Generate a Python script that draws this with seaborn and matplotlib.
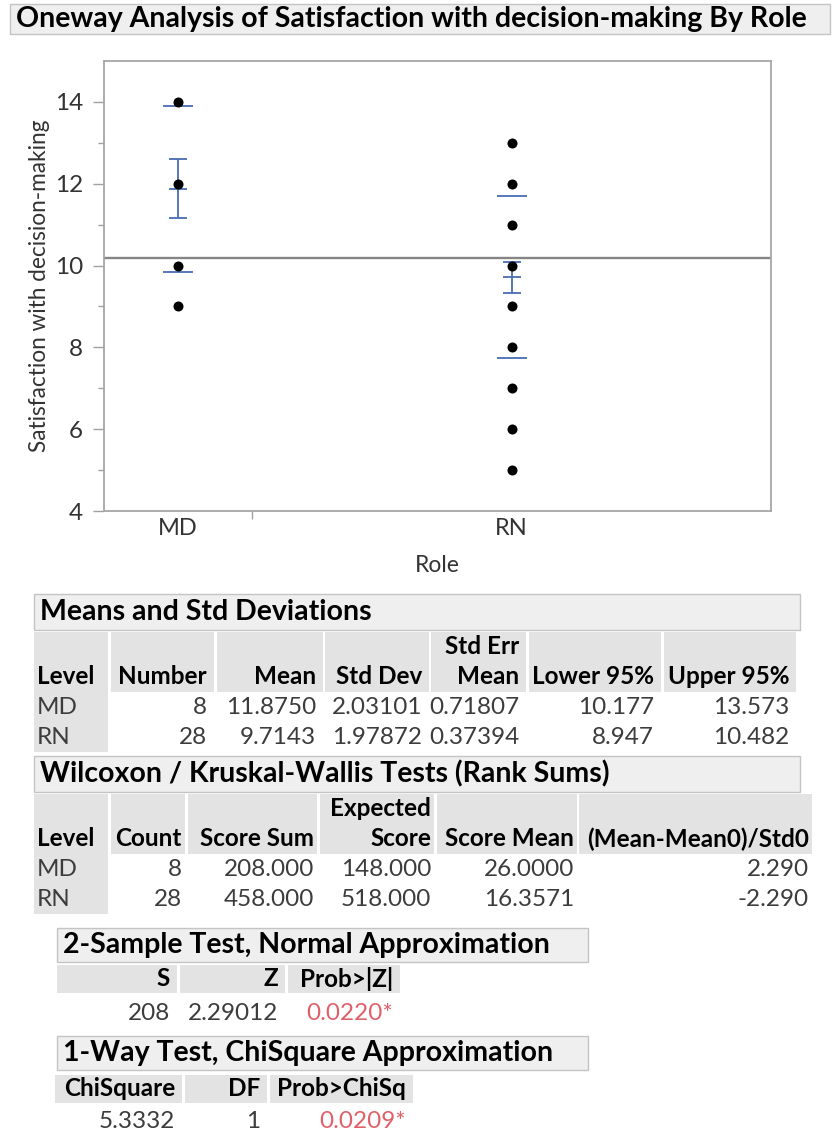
import numpy as np
import pandas as pd
import matplotlib
matplotlib.use("Agg")
import matplotlib.pyplot as plt
import seaborn as sns
from matplotlib.patches import Rectangle

# ---- data ----
roles = ["MD", "RN"]
counts = [8, 28]
md_levels = [14, 12, 10, 9]
rn_levels = [13, 12, 11, 10, 9, 8, 7, 6, 5]
means = [11.8750, 9.7143]
std_devs = [2.03101, 1.97872]
std_errs = [0.71807, 0.37394]
lower95 = [10.177, 8.947]
upper95 = [13.573, 10.482]

score_sum = [208.000, 458.000]
expected_score = [148.000, 518.000]
score_mean = [26.0000, 16.3571]
std0 = [2.290, -2.290]

two_sample = {"S": "208", "Z": "2.29012", "Prob>|Z|": "0.0220*"}
chisq = {"ChiSquare": "5.3332", "DF": "1", "Prob>ChiSq": "0.0209*"}

W, H = 834, 1133
BLUE = "#4a6cb3"
CELL = "#e3e3e3"
HEAD = "#efefef"
TXT = "#3c3c3c"
RED = "#e0606a"
TS = 17.5   # table text size
HS = 20.5   # section header size

sns.set_style("white")
plt.rcParams["font.family"] = ["Lato", "DejaVu Sans"]

fig = plt.figure(figsize=(W / 100, H / 100), dpi=100)


def rect(x0, y0, x1, y1, fc, ec="none"):
    fig.patches.append(Rectangle((x0 / W, 1 - y1 / H), (x1 - x0) / W, (y1 - y0) / H,
                                 transform=fig.transFigure, facecolor=fc,
                                 edgecolor=ec, lw=1, zorder=0))


def txt(x, y, s, ha="left", bold=False, size=TS, color=TXT):
    fig.text(x / W, 1 - y / H, s, ha=ha, va="center", fontsize=size,
             fontweight="bold" if bold else "normal", color=color)


def section(x0, x1, y0, y1, title):
    rect(x0, y0, x1, y1, HEAD, "#c4c4c4")
    txt(x0 + 6, (y0 + y1) / 2, title, bold=True, size=HS, color="black")


# ---- title ----
section(10, 830, 4, 34, "Oneway Analysis of Satisfaction with decision-making By Role")

# ---- oneway plot ----
ax = fig.add_axes([104 / W, 1 - 511 / H, 667 / W, 450 / H])
edges = np.cumsum([0] + counts)
centers = (edges[:-1] + edges[1:]) / 2
pos = dict(zip(roles, centers))

pts = pd.DataFrame({
    "Role": ["MD"] * len(md_levels) + ["RN"] * len(rn_levels),
    "value": md_levels + rn_levels,
})
pts["x"] = pts["Role"].map(pos)

grand_mean = np.average(means, weights=counts)
ax.axhline(grand_mean, color="#858585", lw=1.7, zorder=1)

sns.scatterplot(data=pts, x="x", y="value", color="black", s=52,
                linewidth=0, legend=False, ax=ax, zorder=3)

upx = edges[-1] / 667  # data units per pixel
for c, m, sd, se in zip(centers, means, std_devs, std_errs):
    ax.hlines([m - sd, m + sd], c - 15 * upx, c + 15 * upx, color=BLUE, lw=1.3, zorder=2)
    ax.hlines(m, c - 9 * upx, c + 9 * upx, color=BLUE, lw=1.3, zorder=2)
ax.errorbar(centers, means, yerr=std_errs, fmt="none", ecolor=BLUE,
            elinewidth=1.3, capsize=6.5, capthick=1.3, zorder=2)

ax.set_xlim(edges[0], edges[-1])
ax.set_ylim(4, 15)
ax.set_xticks(centers)
ax.set_xticklabels(roles)
ax.set_xticks([edges[1]], minor=True)
ax.set_yticks(range(4, 15, 2))
ax.set_yticks(range(5, 15, 2), minor=True)
ax.tick_params(axis="x", which="major", length=0, pad=5, labelsize=17, labelcolor="#333333")
ax.tick_params(axis="x", which="minor", length=6, width=1, color="#a0a0a0", direction="out", bottom=True)
ax.tick_params(axis="y", which="major", length=8, width=1, color="#a0a0a0", pad=7,
               labelsize=17.5, labelcolor="#333333", left=True)
ax.tick_params(axis="y", which="minor", length=4.5, width=1, color="#a0a0a0", left=True)
for sp in ax.spines.values():
    sp.set_color("#a6a6a6")
    sp.set_linewidth(1.3)

ax.set_xlabel("Role", fontsize=16.5, color="#333333")
ax.xaxis.set_label_coords(0.5, -(565 - 511) / 450)
ax.xaxis.label.set_va("center")
ax.set_ylabel("Satisfaction with decision-making", fontsize=16.3, color="#333333")
ax.yaxis.set_label_coords(-(104 - 40) / 667, 0.5)
ax.yaxis.label.set_va("center")

# ---- Means and Std Deviations ----
section(34, 800, 594, 630, "Means and Std Deviations")
cols = [(34, 108), (111, 214), (217, 323), (325, 429), (431, 526), (529, 661), (664, 796)]
top = ["", "", "", "", "Std Err", "", ""]
bottom = ["Level", "Number", "Mean", "Std Dev", "Mean", "Lower 95%", "Upper 95%"]
for (a, b), t1, t2 in zip(cols, top, bottom):
    rect(a, 632, b, 692, CELL)
    if t2 == "Level":
        txt(a + 3, 677, t2, bold=True, color="black")
    else:
        txt(b - 7, 647, t1, ha="right", bold=True, color="black")
        txt(b - 7, 677, t2, ha="right", bold=True, color="black")
rect(34, 692, 108, 752, CELL)
for i, (y, r) in enumerate(zip([707, 737], roles)):
    vals = [str(counts[i]), f"{means[i]:.4f}", f"{std_devs[i]:.5f}", f"{std_errs[i]:.5f}",
            f"{lower95[i]:.3f}", f"{upper95[i]:.3f}"]
    txt(37, y, r)
    for (a, b), v in zip(cols[1:], vals):
        txt(b - 7, y, v, ha="right")

# ---- Wilcoxon / Kruskal-Wallis ----
section(34, 800, 756, 792, "Wilcoxon / Kruskal-Wallis Tests (Rank Sums)")
cols = [(34, 108), (111, 185), (188, 317), (320, 434), (437, 577), (579, 812)]
top = ["", "", "", "Expected", "", ""]
bottom = ["Level", "Count", "Score Sum", "Score", "Score Mean", "(Mean-Mean0)/Std0"]
for (a, b), t1, t2 in zip(cols, top, bottom):
    rect(a, 794, b, 854, CELL)
    if t2 == "Level":
        txt(a + 3, 839, t2, bold=True, color="black")
    else:
        txt(b - 3, 809, t1, ha="right", bold=True, color="black")
        txt(b - 3, 839, t2, ha="right", bold=True, color="black")
rect(34, 854, 108, 914, CELL)
for i, (y, r) in enumerate(zip([869, 899], roles)):
    vals = [str(counts[i]), f"{score_sum[i]:.3f}", f"{expected_score[i]:.3f}",
            f"{score_mean[i]:.4f}", f"{std0[i]:.3f}"]
    txt(37, y, r)
    for (a, b), v in zip(cols[1:], vals):
        txt(b - 3, y, v, ha="right")

# ---- 2-Sample Test ----
section(57, 588, 928, 962, "2-Sample Test, Normal Approximation")
cols = [(57, 177), (180, 285), (288, 400)]
for (a, b), (k, v) in zip(cols, two_sample.items()):
    rect(a, 965, b, 993, CELL)
    txt(b - 7, 979, k, ha="right", bold=True, color="black")
    txt(b - 7, 1013, v, ha="right", color=RED if "*" in v else TXT)

# ---- 1-Way ChiSquare ----
section(57, 588, 1036, 1070, "1-Way Test, ChiSquare Approximation")
cols = [(55, 182), (185, 267), (270, 413)]
for (a, b), (k, v) in zip(cols, chisq.items()):
    rect(a, 1075, b, 1103, CELL)
    txt(b - 7, 1089, k, ha="right", bold=True, color="black")
    txt(b - 7, 1122, v, ha="right", color=RED if "*" in v else TXT)

fig.savefig("out.png", dpi=100)
